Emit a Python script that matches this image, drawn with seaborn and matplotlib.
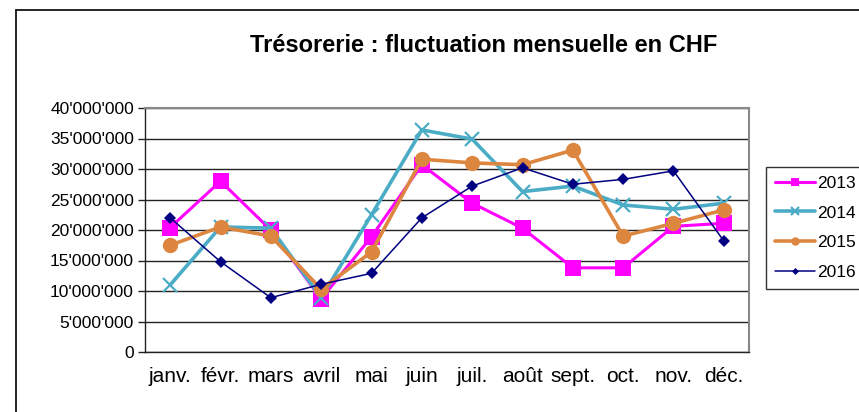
import seaborn as sns
import matplotlib.pyplot as plt
import pandas as pd
from matplotlib.ticker import FuncFormatter, MultipleLocator
from matplotlib.lines import Line2D

# DATA
mois = ['janv.', 'févr.', 'mars', 'avril', 'mai', 'juin', 'juil.', 'août', 'sept.', 'oct.', 'nov.', 'déc.']
v2013 = [20.4, 28.0, 20.0, 8.7, 18.9, 30.7, 24.4, 20.3, 13.8, 13.8, 20.6, 21.1]
v2014 = [11.0, 20.5, 20.3, 8.9, 22.5, 36.4, 34.9, 26.3, 27.2, 24.1, 23.4, 24.4]
v2015 = [17.5, 20.5, 19.0, 10.3, 16.4, 31.6, 31.0, 30.7, 33.1, 19.0, 21.1, 23.3]
v2016 = [22.0, 14.8, 8.9, 11.1, 12.9, 22.0, 27.2, 30.2, 27.5, 28.3, 29.7, 18.2]
annees = ['2013', '2014', '2015', '2016']

df = pd.DataFrame({'mois': mois, '2013': v2013, '2014': v2014, '2015': v2015, '2016': v2016})
df['pos'] = range(len(mois))
long = df.melt(id_vars=['mois', 'pos'], value_vars=annees, var_name='annee', value_name='valeur')
long['valeur'] = long['valeur'] * 1e6

# STYLES PER YEAR
styles = {
    '2013': dict(color='#ff00ff', marker='s', markersize=11, linewidth=2.2, mew=0),
    '2014': dict(color='#4bacc6', marker='x', markersize=10, linewidth=2.6, mew=1.6),
    '2015': dict(color='#dd8640', marker='o', markersize=11, linewidth=2.6, mew=0),
    '2016': dict(color='#000080', marker='D', markersize=6.5, linewidth=1.1, mew=0),
}

sns.set_style('white')
plt.rcParams['font.family'] = ['Liberation Sans', 'DejaVu Sans']
plt.rcParams['text.color'] = 'black'
plt.rcParams['xtick.labelcolor'] = 'black'
plt.rcParams['ytick.labelcolor'] = 'black'

fig = plt.figure(figsize=(8.59, 4.12), dpi=100)
ax = fig.add_axes([145 / 859, 1 - 352 / 412, 604 / 859, 244 / 412])

for an in annees:
    st = styles[an]
    sub = long[long['annee'] == an]
    sns.lineplot(data=sub, x='pos', y='valeur', ax=ax, label=an,
                 color=st['color'], marker=st['marker'], markersize=st['markersize'],
                 linewidth=st['linewidth'], markeredgecolor=st['color'],
                 markeredgewidth=st['mew'], markerfacecolor=st['color'])

# AXES
ax.set_xlim(-0.5, len(mois) - 0.5)
ax.set_ylim(0, 40e6)
ax.yaxis.set_major_locator(MultipleLocator(5e6))
ax.yaxis.set_major_formatter(FuncFormatter(lambda v, p: f"{int(round(v)):,}".replace(",", "'")))
ax.set_xticks(range(len(mois)))
ax.set_xticklabels(mois)
ax.set_xticks([i - 0.5 for i in range(len(mois) + 1)], minor=True)
ax.tick_params(axis='x', which='major', length=0, labelsize=15, pad=11)
ax.tick_params(axis='x', which='minor', length=5, width=1, color='#222222', direction='out')
ax.tick_params(axis='y', which='major', length=5, width=1, color='#222222', direction='out',
               labelsize=12.5, pad=3, left=True)
ax.set_xlabel('')
ax.set_ylabel('')
ax.grid(axis='y', color='#222222', linewidth=1)
ax.set_axisbelow(True)
for side in ['top', 'right']:
    ax.spines[side].set_color('#888888')
    ax.spines[side].set_linewidth(1.5)
for side in ['left', 'bottom']:
    ax.spines[side].set_color('#222222')
    ax.spines[side].set_linewidth(1)

# LEGEND
leg = ax.legend(loc='upper left', bbox_to_anchor=(766 / 859, 1 - 167 / 412),
                bbox_transform=fig.transFigure, borderaxespad=0, fontsize=12.5,
                frameon=True, fancybox=False, edgecolor='black', markerscale=0.55,
                handlelength=2.3, labelspacing=0.84, borderpad=0.5, handletextpad=0.15)
leg.get_frame().set_linewidth(1)

# TITLE
fig.text(484 / 859, 1 - 46 / 412, 'Trésorerie : fluctuation mensuelle en CHF',
         ha='center', va='center', fontsize=17, fontweight='bold', color='black')

# OUTER FRAME (cropped on right and bottom)
fig.add_artist(Line2D([16 / 859, 16 / 859], [0, 1 - 10 / 412], color='black', linewidth=1.2))
fig.add_artist(Line2D([16 / 859, 1], [1 - 10 / 412, 1 - 10 / 412], color='black', linewidth=1.2))

fig.savefig('out.png', dpi=100)
